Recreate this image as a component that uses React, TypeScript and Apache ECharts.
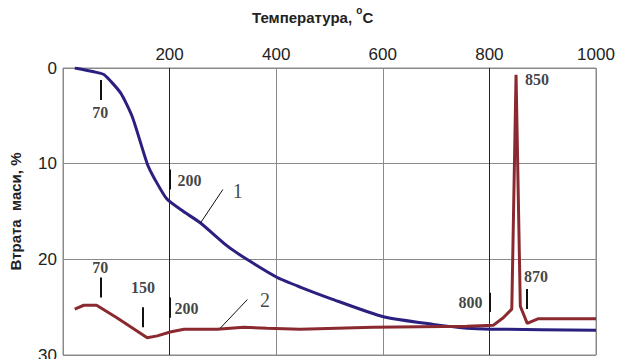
import React, { useEffect, useRef } from "react";
import * as echarts from "echarts";

// Curve 1: mass loss vs temperature
const temp1 = [22, 58, 77, 108, 130, 158, 173, 195, 226, 258, 308, 345, 402, 445, 502, 601, 695, 758, 803, 1000];
const loss1 = [0.0, 0.4, 0.7, 2.6, 5.1, 10.0, 11.7, 13.7, 15.0, 16.2, 18.6, 20.0, 21.9, 22.9, 24.1, 26.0, 26.8, 27.2, 27.3, 27.4];

// Curve 2: mass loss vs temperature (with exothermic spike near 850)
const temp2 = [22, 39, 63, 101, 158, 177, 201, 227, 289, 339, 383, 445, 582, 758, 807, 826, 842, 850, 858, 871, 892, 1000];
const loss2 = [25.2, 24.8, 24.8, 26.1, 28.2, 28.0, 27.6, 27.3, 27.3, 27.1, 27.2, 27.3, 27.1, 27.0, 26.9, 26.1, 25.2, 0.7, 24.9, 26.7, 26.2, 26.2];

// Temperature markers: short vertical ticks
const markTemps = [70, 200, 70, 150, 200, 800, 870];
const markFrom = [1.25, 10.6, 21.9, 25.0, 24.0, 23.5, 23.1];
const markTo = [3.35, 12.7, 24.0, 27.1, 26.1, 25.5, 25.2];

// Marker captions
const captionTexts = ["70", "200", "70", "150", "200", "800", "870", "850"];
const captionTemps = [70, 215, 70, 150, 209, 787, 865, 867];
const captionLoss = [4.6, 11.8, 20.9, 22.9, 25.1, 24.5, 21.8, 1.25];
const captionAlign = ["center", "left", "center", "center", "left", "right", "left", "left"];

// Curve numbers and their leader lines
const curveNames = ["1", "2"];
const curveNameTemps = [328, 379];
const curveNameLoss = [12.9, 24.3];
const leaderFrom = [[258, 16.2], [295, 27.2]];
const leaderTo = [[300, 12.7], [346, 24.2]];

const xTicks = [0, 200, 400, 600, 800, 1000];

export default function App() {
  const ref = useRef<HTMLDivElement>(null);

  useEffect(() => {
    if (!ref.current) return;
    const chart = echarts.init(ref.current, null, { renderer: "svg" });

    const serifBold = {
      fontFamily: "Liberation Serif",
      fontWeight: "bold",
      fontSize: 16,
      color: "#111",
    };

    const option = {
      animation: false,
      title: {
        text: "{b|Температура, }{s|o}{b|C}",
        left: 252,
        top: 5,
        padding: 0,
        textStyle: {
          rich: {
            b: { fontFamily: "Liberation Sans", fontWeight: "bold", fontSize: 15, color: "#222", lineHeight: 20, verticalAlign: "bottom" },
            s: { fontFamily: "Liberation Sans", fontWeight: "bold", fontSize: 10, color: "#222", lineHeight: 14, verticalAlign: "top" },
          },
        },
      },
      grid: {
        left: 63,
        right: 23,
        top: 68,
        bottom: 4,
        outerBoundsMode: "none",
        containLabel: false,
        show: true,
        borderColor: "#8a8a8a",
        borderWidth: 1,
      },
      xAxis: {
        type: "value",
        position: "top",
        min: 0,
        max: 1000,
        interval: 200,
        axisLine: { show: false },
        axisTick: { show: false },
        axisLabel: {
          fontFamily: "Liberation Sans",
          fontSize: 17,
          color: "#222",
          margin: 5,
          formatter: (v: number) => (v === 0 ? "" : String(v)),
        },
        splitLine: {
          show: true,
          lineStyle: {
            width: 1,
            color: xTicks.map((t) => (t === 200 || t === 800 ? "#222" : "#8a8a8a")),
          },
        },
      },
      yAxis: {
        type: "value",
        inverse: true,
        min: 0,
        max: 30,
        interval: 10,
        name: "Втрата  маси, %",
        nameLocation: "middle",
        nameGap: 40,
        nameTextStyle: {
          fontFamily: "Liberation Sans",
          fontWeight: "bold",
          fontSize: 15,
          color: "#222",
        },
        axisLine: { show: false },
        axisTick: { show: false },
        axisLabel: {
          fontFamily: "Liberation Sans",
          fontSize: 17,
          color: "#222",
          margin: 6,
        },
        splitLine: { show: true, lineStyle: { color: "#8a8a8a", width: 1 } },
      },
      series: [
        {
          name: "1",
          type: "line",
          data: temp1.map((t, i) => [t, loss1[i]]),
          showSymbol: false,
          smooth: 0.2,
          lineStyle: { color: "#2b1f80", width: 3 },
          z: 3,
          markLine: {
            silent: true,
            symbol: "none",
            label: { show: false },
            lineStyle: { color: "#111", width: 2, type: "solid" },
            data: markTemps.map((t, i) => [
              { coord: [t, markFrom[i]] },
              { coord: [t, markTo[i]] },
            ]),
          },
        },
        {
          name: "2",
          type: "line",
          data: temp2.map((t, i) => [t, loss2[i]]),
          showSymbol: false,
          lineStyle: { color: "#8a2a30", width: 3 },
          z: 4,
          markLine: {
            silent: true,
            symbol: "none",
            label: { show: false },
            lineStyle: { color: "#111", width: 1, type: "solid" },
            data: leaderFrom.map((p, i) => [{ coord: p }, { coord: leaderTo[i] }]),
          },
        },
        {
          name: "captions",
          type: "scatter",
          symbolSize: 0,
          silent: true,
          z: 6,
          data: captionTexts.map((txt, i) => ({
            value: [captionTemps[i], captionLoss[i]],
            name: txt,
            label: {
              show: true,
              position: "inside",
              align: captionAlign[i],
              verticalAlign: "middle",
              formatter: txt,
              ...serifBold,
            },
          })),
        },
        {
          name: "curve numbers",
          type: "scatter",
          symbolSize: 0,
          silent: true,
          z: 6,
          data: curveNames.map((txt, i) => ({
            value: [curveNameTemps[i], curveNameLoss[i]],
            name: txt,
            label: {
              show: true,
              position: "inside",
              align: "center",
              verticalAlign: "middle",
              formatter: txt,
              fontFamily: "Liberation Serif",
              fontSize: 20,
              color: "#111",
              textBorderWidth: 0,
            },
          })),
        },
      ],
    };

    chart.setOption(option as any);
    return () => chart.dispose();
  }, []);

  return (
    <div
      ref={ref}
      style={{ position: "fixed", left: 0, top: 0, width: 619, height: 359, background: "#fff" }}
    />
  );
}
